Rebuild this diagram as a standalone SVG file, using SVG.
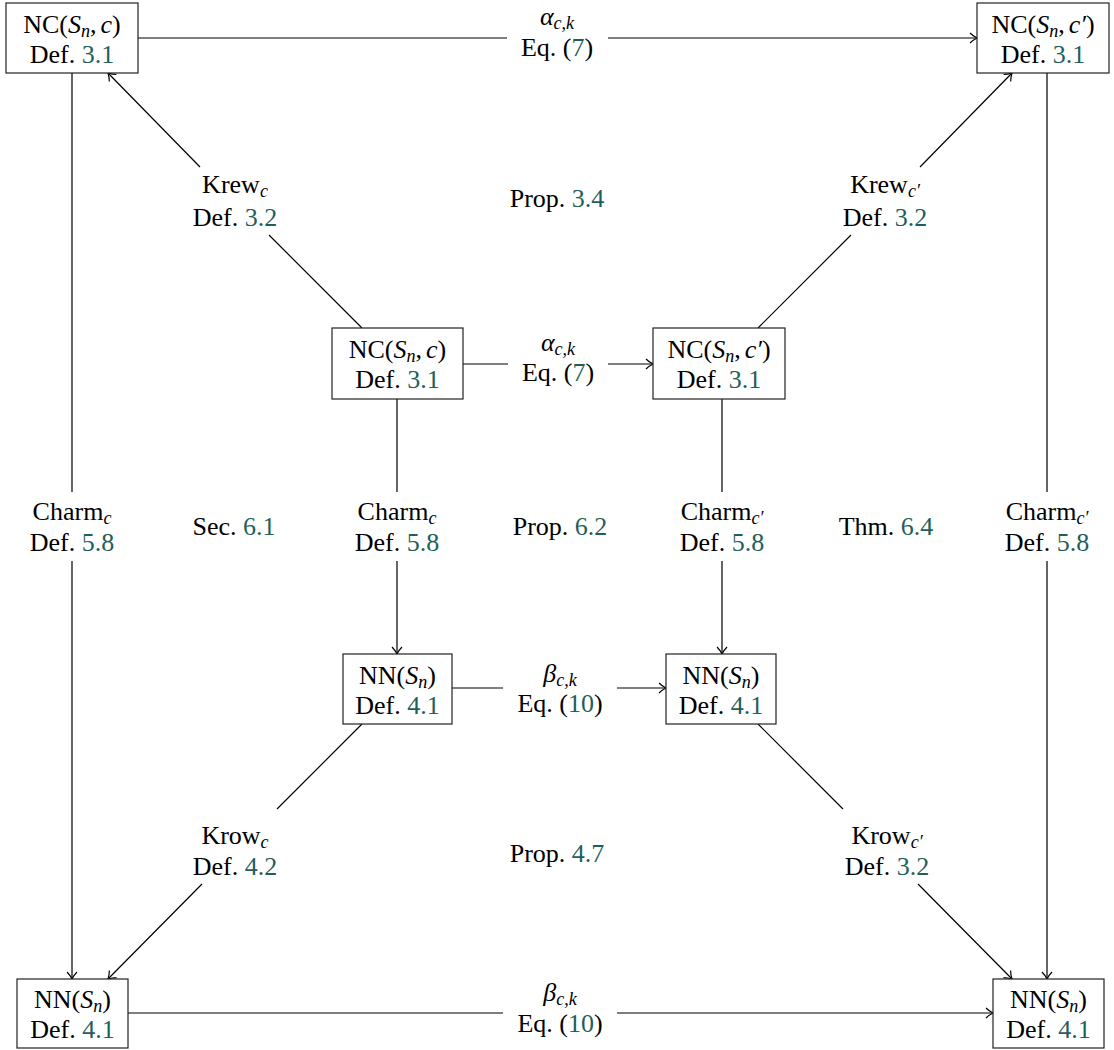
<svg xmlns="http://www.w3.org/2000/svg" width="1114" height="1050" viewBox="0 0 1114 1050" font-family="Liberation Serif, DejaVu Serif, serif">
<style>
.t{font-family:'Liberation Serif','DejaVu Serif',serif;font-size:26px;fill:#000;text-anchor:middle}
.i{font-style:italic}
.s{font-size:18px}
.n{fill:#1f5f5b}
.box{fill:#fff;stroke:#222;stroke-width:1.2}
.e{fill:none;stroke:#000;stroke-width:1.2}
</style>
<defs>
<marker id="ar" markerUnits="userSpaceOnUse" viewBox="-9 -7 10 14" markerWidth="10" markerHeight="14" refX="0" refY="0" orient="auto">
<path d="M-7,-5 C-4,-2 -1,-0.5 0,0 C-1,0.5 -4,2 -7,5" fill="none" stroke="#000" stroke-width="1.2"/>
</marker>
</defs>
<rect width="1114" height="1050" fill="#fff"/>
<g id="connectors" class="e">
<path d="M138,38 H507 M608,38 H977" marker-end="url(#ar)"/>
<path d="M72,73 V492 M72,561 V979" marker-end="url(#ar)"/>
<path d="M1047,73 V492 M1047,561 V979" marker-end="url(#ar)"/>
<path d="M362,328 L269,235 M200,167 L108,73" marker-end="url(#ar)"/>
<path d="M758,328 L851,235 M920,167 L1012,73" marker-end="url(#ar)"/>
<path d="M463,364 H508 M608,364 H653" marker-end="url(#ar)"/>
<path d="M397,399 V492 M397,561 V654" marker-end="url(#ar)"/>
<path d="M722,399 V492 M722,561 V654" marker-end="url(#ar)"/>
<path d="M452,688 H503 M617,688 H666" marker-end="url(#ar)"/>
<path d="M362,724 L277,809 M202,884 L108,979" marker-end="url(#ar)"/>
<path d="M758,724 L843,809 M918,884 L1012,979" marker-end="url(#ar)"/>
<path d="M128,1013 H503 M617,1013 H993" marker-end="url(#ar)"/>
</g>
<g id="labels">
<text class="t" x="557" y="25"><tspan class="i">α</tspan><tspan class="i s" dy="4">c,k</tspan></text>
<text class="t" x="557" y="56">Eq. (<tspan class="n">7</tspan>)</text>
<text class="t" x="558" y="351"><tspan class="i">α</tspan><tspan class="i s" dy="4">c,k</tspan></text>
<text class="t" x="558" y="381">Eq. (<tspan class="n">7</tspan>)</text>
<text class="t" x="560" y="682"><tspan class="i">β</tspan><tspan class="i s" dy="4">c,k</tspan></text>
<text class="t" x="560" y="712">Eq. (<tspan class="n">10</tspan>)</text>
<text class="t" x="560" y="1001"><tspan class="i">β</tspan><tspan class="i s" dy="4">c,k</tspan></text>
<text class="t" x="560" y="1032">Eq. (<tspan class="n">10</tspan>)</text>
<text class="t" x="235" y="193">Krew<tspan class="i s" dy="4">c</tspan></text>
<text class="t" x="235" y="226">Def. <tspan class="n">3.2</tspan></text>
<text class="t" x="885" y="193">Krew<tspan class="i s" dy="4">c′</tspan></text>
<text class="t" x="885" y="226">Def. <tspan class="n">3.2</tspan></text>
<text class="t" x="235" y="844">Krow<tspan class="i s" dy="4">c</tspan></text>
<text class="t" x="235" y="875">Def. <tspan class="n">4.2</tspan></text>
<text class="t" x="887" y="844">Krow<tspan class="i s" dy="4">c′</tspan></text>
<text class="t" x="887" y="875">Def. <tspan class="n">3.2</tspan></text>
<text class="t" x="72" y="520">Charm<tspan class="i s" dy="4">c</tspan></text>
<text class="t" x="72" y="551">Def. <tspan class="n">5.8</tspan></text>
<text class="t" x="397" y="520">Charm<tspan class="i s" dy="4">c</tspan></text>
<text class="t" x="397" y="551">Def. <tspan class="n">5.8</tspan></text>
<text class="t" x="722" y="520">Charm<tspan class="i s" dy="4">c′</tspan></text>
<text class="t" x="722" y="551">Def. <tspan class="n">5.8</tspan></text>
<text class="t" x="1047" y="520">Charm<tspan class="i s" dy="4">c′</tspan></text>
<text class="t" x="1047" y="551">Def. <tspan class="n">5.8</tspan></text>
<text class="t" x="557" y="207">Prop. <tspan class="n">3.4</tspan></text>
<text class="t" x="234" y="535">Sec. <tspan class="n">6.1</tspan></text>
<text class="t" x="560" y="535">Prop. <tspan class="n">6.2</tspan></text>
<text class="t" x="886" y="535">Thm. <tspan class="n">6.4</tspan></text>
<text class="t" x="557" y="862">Prop. <tspan class="n">4.7</tspan></text>
</g>
<g id="nc-tl">
<rect class="box" x="6" y="3" width="132" height="70"/>
<text class="t" x="72" y="33">NC(<tspan class="i">S</tspan><tspan class="i s" dy="4">n</tspan><tspan dy="-4">,</tspan><tspan class="i" dx="4">c</tspan>)</text>
<text class="t" x="72" y="63">Def. <tspan class="n">3.1</tspan></text>
</g>
<g id="nc-tr">
<rect class="box" x="977" y="3" width="132" height="70"/>
<text class="t" x="1043" y="33">NC(<tspan class="i">S</tspan><tspan class="i s" dy="4">n</tspan><tspan dy="-4">,</tspan><tspan class="i" dx="4">c′</tspan>)</text>
<text class="t" x="1043" y="63">Def. <tspan class="n">3.1</tspan></text>
</g>
<g id="nc-cl">
<rect class="box" x="332" y="328" width="131" height="71"/>
<text class="t" x="397.5" y="358">NC(<tspan class="i">S</tspan><tspan class="i s" dy="4">n</tspan><tspan dy="-4">,</tspan><tspan class="i" dx="4">c</tspan>)</text>
<text class="t" x="397.5" y="388">Def. <tspan class="n">3.1</tspan></text>
</g>
<g id="nc-cr">
<rect class="box" x="653" y="328" width="132" height="71"/>
<text class="t" x="719" y="358">NC(<tspan class="i">S</tspan><tspan class="i s" dy="4">n</tspan><tspan dy="-4">,</tspan><tspan class="i" dx="4">c′</tspan>)</text>
<text class="t" x="719" y="388">Def. <tspan class="n">3.1</tspan></text>
</g>
<g id="nn-cl">
<rect class="box" x="343" y="654" width="109" height="70"/>
<text class="t" x="397.5" y="684">NN(<tspan class="i">S</tspan><tspan class="i s" dy="4">n</tspan><tspan dy="-4">)</tspan></text>
<text class="t" x="397.5" y="714">Def. <tspan class="n">4.1</tspan></text>
</g>
<g id="nn-cr">
<rect class="box" x="666" y="654" width="110" height="70"/>
<text class="t" x="721" y="684">NN(<tspan class="i">S</tspan><tspan class="i s" dy="4">n</tspan><tspan dy="-4">)</tspan></text>
<text class="t" x="721" y="714">Def. <tspan class="n">4.1</tspan></text>
</g>
<g id="nn-bl">
<rect class="box" x="17" y="979" width="111" height="69"/>
<text class="t" x="72.5" y="1008">NN(<tspan class="i">S</tspan><tspan class="i s" dy="4">n</tspan><tspan dy="-4">)</tspan></text>
<text class="t" x="72.5" y="1038">Def. <tspan class="n">4.1</tspan></text>
</g>
<g id="nn-br">
<rect class="box" x="993" y="979" width="111" height="69"/>
<text class="t" x="1048.5" y="1008">NN(<tspan class="i">S</tspan><tspan class="i s" dy="4">n</tspan><tspan dy="-4">)</tspan></text>
<text class="t" x="1048.5" y="1038">Def. <tspan class="n">4.1</tspan></text>
</g>
</svg>
